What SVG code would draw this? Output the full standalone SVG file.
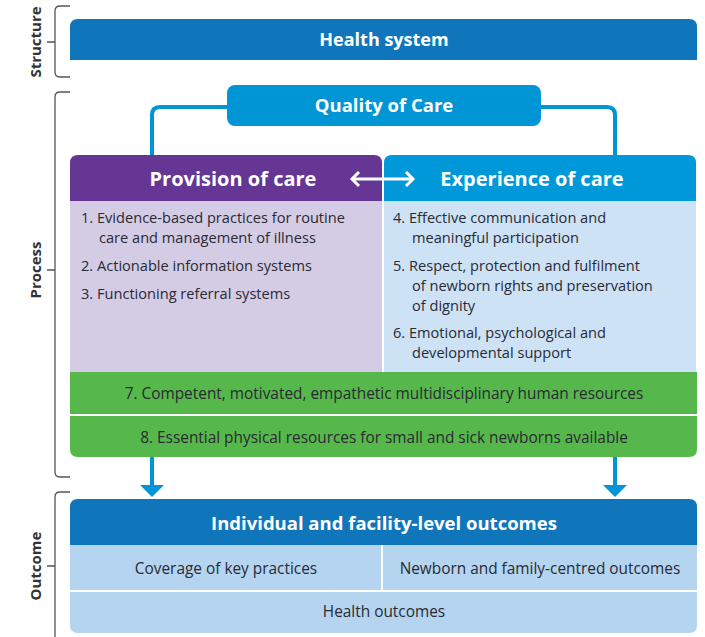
<svg xmlns="http://www.w3.org/2000/svg" width="705" height="637" viewBox="0 0 705 637">
<defs>
<style>
.lbl{font-family:"Open Sans","Noto Sans",sans-serif;font-weight:bold;font-size:15px;fill:#333;text-anchor:middle}
.hd{font-family:"Open Sans","Noto Sans",sans-serif;font-weight:bold;fill:#fff;text-anchor:middle}
.tx{font-family:"Open Sans","Noto Sans",sans-serif;font-size:14.6px;fill:#2a2a35}
.tl{font-family:"Open Sans","Noto Sans",sans-serif;font-size:15.4px;fill:#2a2a35;text-anchor:middle}
.br{fill:none;stroke:#555;stroke-width:1.3}
.conn{fill:none;stroke:#0096d6;stroke-width:4}
.wa{fill:none;stroke:#fff;stroke-width:3}
</style>
</defs>
<rect width="705" height="637" fill="#fff"/>

<g id="brackets">
<path class="br" d="M70,6 H60 Q55,6 55,11 V72 Q55,77 60,77 H70 M55,42 H47"/>
<path class="br" d="M70,92 H60 Q55,92 55,97 V472 Q55,477 60,477 H70 M55,270 H47"/>
<path class="br" d="M70,492 H60 Q55,492 55,497 V637 M55,566 H47"/>
<text class="lbl" transform="translate(41,42) rotate(-90)">Structure</text>
<text class="lbl" transform="translate(41,270) rotate(-90)">Process</text>
<text class="lbl" transform="translate(41,566) rotate(-90)">Outcome</text>
</g>

<g id="health-system">
<path d="M70,60 V27 Q70,19 78,19 H689 Q697,19 697,27 V60 Z" fill="#1076bc"/>
<text class="hd" x="384" y="46" font-size="18">Health system</text>
</g>

<g id="connectors">
<path class="conn" d="M228,107 H160 Q152,107 152,115 V156"/>
<path class="conn" d="M540,107 H607 Q615,107 615,115 V156"/>
<path d="M152,457 V487" stroke="#0096d6" stroke-width="4"/>
<path d="M140,485 H164 L152,497 Z" fill="#0096d6"/>
<path d="M615,457 V487" stroke="#0096d6" stroke-width="4"/>
<path d="M603,485 H627 L615,497 Z" fill="#0096d6"/>
</g>

<g id="quality-of-care">
<rect x="227" y="85" width="314" height="41" rx="8" fill="#0096d6"/>
<text class="hd" x="384" y="112" font-size="18.5">Quality of Care</text>
</g>

<g id="provision">
<path d="M70,201 V163 Q70,155 78,155 H374 Q382,155 382,163 V201 Z" fill="#663695"/>
<rect x="70" y="201" width="312" height="171" fill="#d4cbe4"/>
<text class="hd" x="233" y="186" font-size="20">Provision of care</text>
<text class="tx" x="81" y="223">1. Evidence-based practices for routine</text>
<text class="tx" x="99" y="243">care and management of illness</text>
<text class="tx" x="81" y="271">2. Actionable information systems</text>
<text class="tx" x="81" y="299">3. Functioning referral systems</text>
</g>

<g id="experience">
<path d="M384,201 V163 Q384,155 392,155 H688 Q696,155 696,163 V201 Z" fill="#0098d8"/>
<rect x="384" y="201" width="312" height="171" fill="#cde2f5"/>
<text class="hd" x="532" y="186" font-size="20">Experience of care</text>
<text class="tx" x="393" y="223">4. Effective communication and</text>
<text class="tx" x="412" y="243">meaningful participation</text>
<text class="tx" x="393" y="271">5. Respect, protection and fulfilment</text>
<text class="tx" x="412" y="291">of newborn rights and preservation</text>
<text class="tx" x="412" y="311">of dignity</text>
<text class="tx" x="393" y="338">6. Emotional, psychological and</text>
<text class="tx" x="412" y="358">developmental support</text>
</g>

<g id="bidirectional-arrow">
<path class="wa" d="M352,179 H413"/>
<path class="wa" d="M359,172 L352,179 L359,186"/>
<path class="wa" d="M406,172 L413,179 L406,186"/>
</g>

<g id="resources">
<rect x="70" y="372" width="627" height="42" fill="#56b84a"/>
<path d="M70,416 H697 V449 Q697,457 689,457 H78 Q70,457 70,449 Z" fill="#56b84a"/>
<text class="tl" x="384" y="399">7. Competent, motivated, empathetic multidisciplinary human resources</text>
<text class="tl" x="384" y="443">8. Essential physical resources for small and sick newborns available</text>
</g>

<g id="outcomes">
<path d="M70,545 V507 Q70,499 78,499 H689 Q697,499 697,507 V545 Z" fill="#1076bc"/>
<text class="hd" x="384" y="530" font-size="18.5">Individual and facility-level outcomes</text>
<rect x="70" y="545" width="311" height="45" fill="#b4d4ef"/>
<rect x="383" y="545" width="314" height="45" fill="#b4d4ef"/>
<path d="M70,592 H697 V625 Q697,633 689,633 H78 Q70,633 70,625 Z" fill="#b4d4ef"/>
<text class="tl" x="226" y="574">Coverage of key practices</text>
<text class="tl" x="540" y="574">Newborn and family-centred outcomes</text>
<text class="tl" x="384" y="617">Health outcomes</text>
</g>
</svg>
